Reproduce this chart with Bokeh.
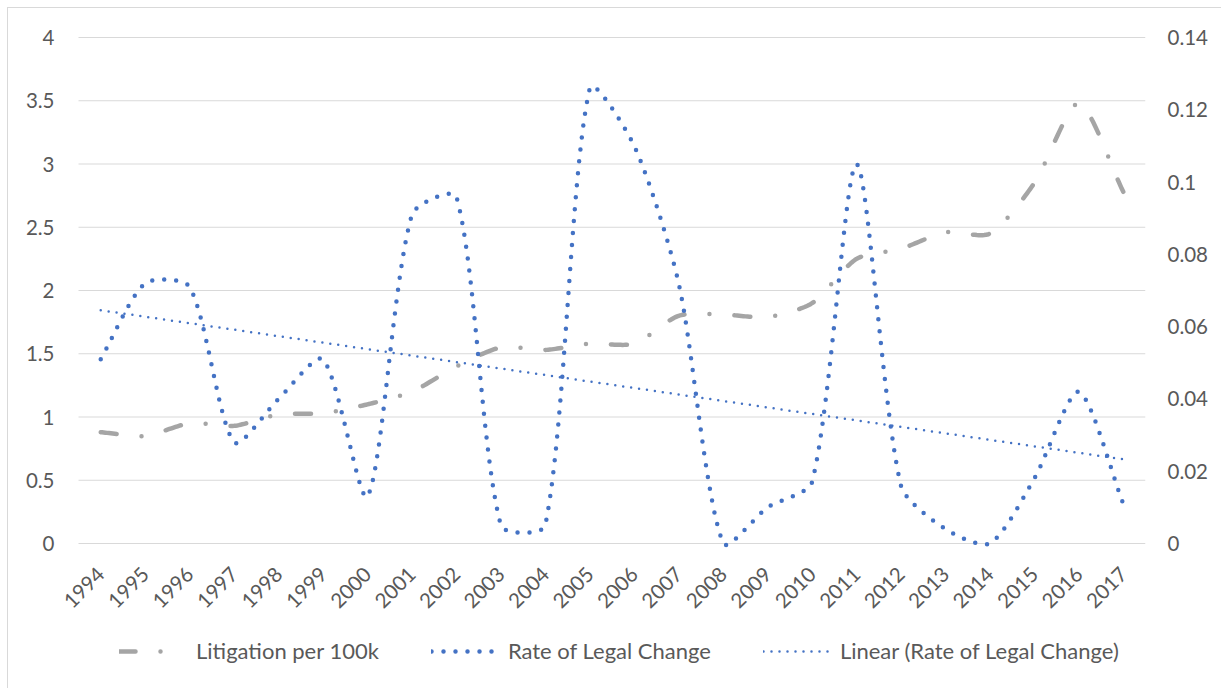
import numpy as np
from math import pi
from bokeh.plotting import figure
from bokeh.models import (Range1d, LinearAxis, FixedTicker, CustomJSTickFormatter,
                          Legend, LegendItem)
from bokeh.embed import file_html
from bokeh.resources import INLINE

# ---------------- data ----------------
years = list(range(1994, 2018))
litigation_per_100k = [0.88, 0.85, 0.95, 0.93, 1.02, 1.03, 1.10, 1.20, 1.40, 1.55, 1.53, 1.58,
                       1.58, 1.80, 1.81, 1.79, 1.90, 2.25, 2.33, 2.46, 2.45, 2.85, 3.48, 2.78]
rate_of_legal_change = [0.051, 0.072, 0.071, 0.028, 0.040, 0.051, 0.013, 0.091, 0.096, 0.005,
                        0.005, 0.126, 0.110, 0.072, 0.000, 0.010, 0.017, 0.105, 0.016, 0.004,
                        0.000, 0.018, 0.042, 0.011]
left_ticks = [0, 0.5, 1, 1.5, 2, 2.5, 3, 3.5, 4]
right_ticks = [0, 0.02, 0.04, 0.06, 0.08, 0.1, 0.12, 0.14]
legend_labels = ["Litigation per 100k", "Rate of Legal Change", "Linear (Rate of Legal Change)"]

GRAY = "#A5A5A5"
BLUE = "#4472C4"
TEXT = "#595959"
GRID = "#D9D9D9"
FONT = "Lato"

# page offset of the chart box (margin 7 + border 1)
OFF = 8
PLOT_L = 78 - OFF       # left edge of the category area inside the chart box
ABOVE = 37 - OFF        # pixels of frame kept above value 4
BR = 76
DATA_W = 1067           # pixels spanned by the 24 categories
DATA_H = 506            # pixels from value 0 to value 4
BELOW = 145             # pixels of frame kept under value 0 (axis labels + legend)
FW = PLOT_L + DATA_W
FH = ABOVE + DATA_H + BELOW
LEFT_MAX, RIGHT_MAX = 4.0, 0.14
NCAT = len(years)
SX = DATA_W / NCAT

xpos = [i + 0.5 for i in range(NCAT)]


def smooth(xs, ys, sx, sy, k=0.25, n=24):
    """Excel-like smoothed line: cubic Bezier segments through the points."""
    P = np.column_stack([np.asarray(xs, float) * sx, np.asarray(ys, float) * sy])
    m = len(P)
    out = [P[0]]
    t = np.linspace(0, 1, n + 1)[1:, None]
    for i in range(m - 1):
        p0 = P[i - 1] if i > 0 else P[i]
        p1, p2 = P[i], P[i + 1]
        p3 = P[i + 2] if i + 2 < m else P[i + 1]
        d01 = np.linalg.norm(p1 - p0)
        d12 = np.linalg.norm(p2 - p1)
        d23 = np.linalg.norm(p3 - p2)
        f1 = k * d12 / (d01 + d12) if d01 + d12 > 0 else 0
        f2 = k * d12 / (d12 + d23) if d12 + d23 > 0 else 0
        c1 = p1 + (p2 - p0) * f1
        c2 = p2 - (p3 - p1) * f2
        pts = (1 - t) ** 3 * p1 + 3 * (1 - t) ** 2 * t * c1 + 3 * (1 - t) * t ** 2 * c2 + t ** 3 * p2
        out.extend(pts)
    out = np.array(out)
    return out[:, 0] / sx, out[:, 1] / sy


def yrange(vmax):
    return Range1d(-vmax * BELOW / DATA_H, vmax * (1 + ABOVE / DATA_H))


p = figure(frame_width=FW, frame_height=FH,
           x_range=Range1d(-PLOT_L / SX, NCAT), y_range=yrange(LEFT_MAX),
           output_backend="svg", toolbar_location=None,
           min_border_left=0, min_border_right=BR, min_border_top=0, min_border_bottom=0)
p.extra_y_ranges = {"rate": yrange(RIGHT_MAX)}
p.outline_line_color = None
p.background_fill_color = "white"
p.border_fill_color = "white"
p.styles = {"border-left": "1px solid #D9D9D9", "border-top": "1px solid #D9D9D9",
            "margin-left": "7px", "margin-top": "7px"}

# horizontal gridlines only over the category area
p.xgrid.visible = False
p.ygrid.visible = False
p.segment(x0=[0] * len(left_ticks), x1=[NCAT] * len(left_ticks), y0=left_ticks, y1=left_ticks,
          line_color=GRID, line_width=1)

# x axis, drawn at value 0
xa = p.xaxis[0]
xa.fixed_location = 0
xa.ticker = FixedTicker(ticks=xpos)
xa.major_label_overrides = {x: str(y) for x, y in zip(xpos, years)}
xa.major_label_orientation = pi / 4
xa.major_label_standoff = 27

# left axis, drawn at the start of the category area
ya = p.yaxis[0]
ya.fixed_location = 0
ya.ticker = FixedTicker(ticks=left_ticks)
ya.formatter = CustomJSTickFormatter(code="return String(Number(tick.toFixed(1)));")
ya.major_label_standoff = 24

# right axis
ra = LinearAxis(y_range_name="rate", ticker=FixedTicker(ticks=right_ticks),
                formatter=CustomJSTickFormatter(code="return String(Number(tick.toFixed(2)));"))
ra.major_label_standoff = 22
p.add_layout(ra, "right")

for ax in (xa, ya, ra):
    ax.axis_line_color = None
    ax.major_tick_line_color = None
    ax.minor_tick_line_color = None
    ax.major_tick_out = 0
    ax.major_tick_in = 0
    ax.major_label_text_font = FONT
    ax.major_label_text_font_size = "20.5px"
    ax.major_label_text_color = TEXT

# litigation (left axis)
gx, gy = smooth(xpos, litigation_per_100k, SX, DATA_H / LEFT_MAX)
r1 = p.line(gx, gy, line_color=GRAY, line_width=4.5, line_dash="16 25 0 25",
            line_cap="round", line_join="round")

# rate of legal change (right axis)
bx, by = smooth(xpos, rate_of_legal_change, SX, DATA_H / RIGHT_MAX)
r2 = p.line(bx, by, line_color=BLUE, line_width=4.5, line_dash="0 12",
            line_cap="round", line_join="round", y_range_name="rate")

# linear trend of rate of legal change
idx = np.arange(NCAT)
slope, intercept = np.polyfit(idx, np.asarray(rate_of_legal_change), 1)
tx = [xpos[0], xpos[-1]]
ty = [intercept + slope * idx[0], intercept + slope * idx[-1]]
r3 = p.line(tx, ty, line_color=BLUE, line_width=2.5, line_dash="0 8",
            line_cap="round", y_range_name="rate")

legend = Legend(items=[LegendItem(label=legend_labels[0], renderers=[r1]),
                       LegendItem(label=legend_labels[1], renderers=[r2]),
                       LegendItem(label=legend_labels[2], renderers=[r3])],
                orientation="horizontal", location=(111, 24),
                glyph_width=66, glyph_height=26, label_standoff=11, spacing=52,
                padding=4, margin=0,
                label_text_font=FONT, label_text_font_size="22px", label_text_color=TEXT,
                border_line_color=None, background_fill_alpha=0)
p.add_layout(legend, "center")

open("out.html", "w").write(file_html(p, INLINE))
